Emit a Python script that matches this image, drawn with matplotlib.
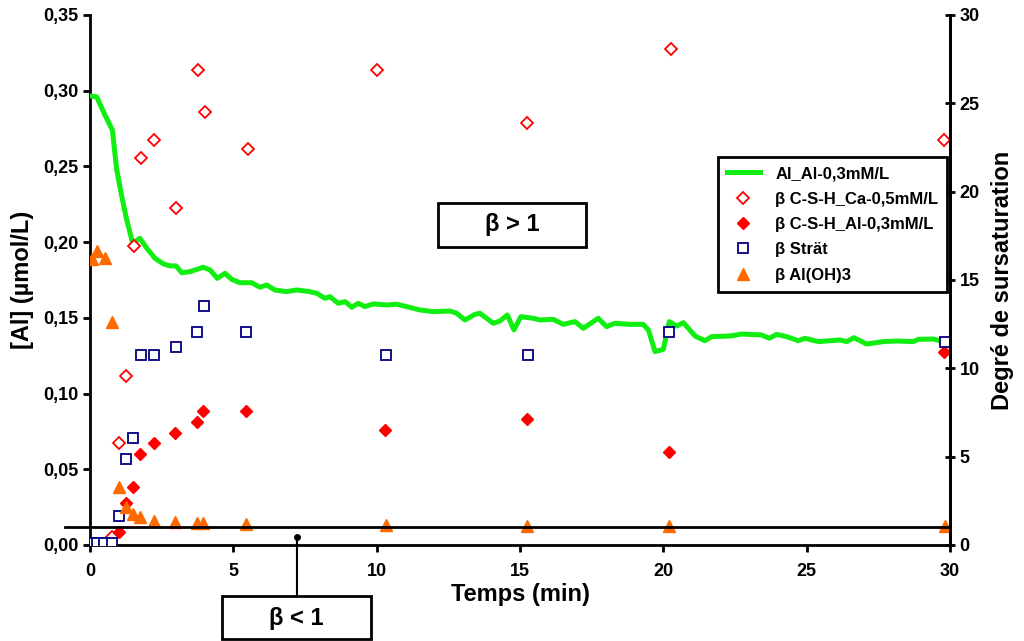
# [Al] en solution et degré de sursaturation en fonction du temps

import matplotlib
matplotlib.use('Agg')
import matplotlib.pyplot as plt
from matplotlib.patches import Rectangle
from matplotlib.ticker import FuncFormatter, MultipleLocator

plt.rcParams['font.family'] = ['Liberation Sans', 'DejaVu Sans']
plt.rcParams['font.weight'] = 'bold'

# Concentration en Al (umol/L) vs temps (min)
t_al = [0.0, 0.23, 0.52, 0.78, 0.93, 1.11, 1.28, 1.49, 1.57, 1.74, 1.98, 2.27,
        2.56, 2.79, 3.0, 3.2, 3.49, 3.95, 4.19, 4.44, 4.71, 4.94, 5.23, 5.64,
        5.93, 6.16, 6.45, 6.86, 7.21, 7.67, 7.91, 8.2, 8.37, 8.66, 8.9, 9.13,
        9.36, 9.59, 9.88, 10.35, 10.7, 11.05, 11.51, 11.98, 12.56, 12.79,
        13.08, 13.43, 13.6, 14.07, 14.3, 14.56, 14.79, 15.03, 15.46, 15.7,
        16.16, 16.51, 16.92, 17.21, 17.73, 18.02, 18.31, 18.84, 19.3, 19.48,
        19.71, 20.0, 20.21, 20.47, 20.7, 21.11, 21.45, 21.69, 22.33, 22.73,
        23.43, 23.7, 23.95, 24.3, 24.71, 24.94, 25.41, 26.16, 26.4, 26.65,
        27.09, 27.67, 28.14, 28.72, 28.89, 29.42, 29.77]
al = [0.2965, 0.296, 0.284, 0.274, 0.248, 0.230, 0.2147, 0.1992, 0.2003,
      0.2025, 0.196, 0.1893, 0.1856, 0.1843, 0.1843, 0.1798, 0.1805, 0.1834,
      0.1816, 0.1761, 0.1794, 0.1755, 0.1732, 0.1732, 0.1702, 0.1717, 0.1684,
      0.1673, 0.1684, 0.1673, 0.1662, 0.1629, 0.164, 0.1596, 0.1607, 0.157,
      0.1596, 0.1574, 0.1592, 0.1585, 0.159, 0.1574, 0.1552, 0.1541, 0.1545,
      0.153, 0.1486, 0.1523, 0.153, 0.1464, 0.1479, 0.1519, 0.142, 0.1508,
      0.1497, 0.1486, 0.149, 0.1457, 0.1475, 0.1431, 0.1497, 0.1442, 0.1464,
      0.1457, 0.1457, 0.142, 0.1277, 0.1292, 0.1475, 0.1446, 0.1468, 0.138,
      0.1349, 0.1376, 0.138, 0.1393, 0.1387, 0.1365, 0.1391, 0.1376, 0.1349,
      0.1365, 0.1343, 0.1354, 0.1343, 0.1369, 0.1327, 0.1343, 0.1347, 0.1343,
      0.1358, 0.136, 0.1343]

# Degrés de sursaturation
t_csh_ca = [0.78, 1.02, 1.26, 1.53, 1.78, 2.23, 3.0, 3.77, 4.01, 5.51, 10.01,
            15.24, 20.27, 29.79]
b_csh_ca = [0.44, 5.76, 9.57, 16.9, 21.9, 22.9, 19.1, 26.9, 24.5, 22.4, 26.9,
            23.9, 28.1, 22.9]

t_csh_al = [1.01, 1.26, 1.51, 1.74, 2.23, 2.98, 3.72, 3.95, 5.43, 10.29, 15.24,
            20.2, 29.79]
b_csh_al = [0.75, 2.36, 3.3, 5.15, 5.76, 6.32, 6.95, 7.58, 7.58, 6.5, 7.13,
            5.26, 10.9]

t_strat = [0.0, 0.25, 0.5, 0.76, 1.01, 1.26, 1.51, 1.78, 2.23, 3.0, 3.73, 3.98,
           5.44, 10.33, 15.28, 20.2, 29.83]
b_strat = [0.1, 0.1, 0.1, 0.1, 1.66, 4.89, 6.04, 10.75, 10.75, 11.2, 12.06,
           13.5, 12.06, 10.75, 10.75, 12.06, 11.5]

t_aloh3 = [0.06, 0.25, 0.52, 0.77, 1.01, 1.26, 1.49, 1.74, 2.23, 2.98, 3.72,
           3.95, 5.43, 10.33, 15.24, 20.2, 29.83]
b_aloh3 = [16.19, 16.64, 16.25, 12.6, 3.3, 2.17, 1.75, 1.57, 1.38, 1.32, 1.26,
           1.26, 1.17, 1.13, 1.08, 1.08, 1.08]

fig = plt.figure(figsize=(10.24, 6.41), dpi=100)
ax = fig.add_axes([0.0879, 0.1498, 0.8398, 0.8268])
ax2 = ax.twinx()

ax.plot(t_al, al, color='#11ee11', lw=3.6, label='Al_Al-0,3mM/L', zorder=3)

ax2.plot(t_csh_ca, b_csh_ca, 'D', ms=6, mfc='white', mec='red', mew=1.3,
         ls='none', label='β C-S-H_Ca-0,5mM/L')
ax2.plot(t_csh_al, b_csh_al, 'D', ms=6.5, color='red', ls='none',
         label='β C-S-H_Al-0,3mM/L')
ax2.plot(t_strat, b_strat, 's', ms=7.5, mfc='white', mec='#000080', mew=1.3,
         ls='none', label='β Strät')
ax2.plot(t_aloh3, b_aloh3, '^', ms=8.5, color='#ff6a00', ls='none',
         label='β Al(OH)3')

# beta = 1
ax2.plot([-0.029, 1.0], [1, 1], color='k', lw=2,
         transform=ax2.get_yaxis_transform(), clip_on=False)

ax.set_xlim(0, 30)
ax.set_ylim(0, 0.35)
ax2.set_ylim(0, 30)
ax.xaxis.set_major_locator(MultipleLocator(5))
ax.yaxis.set_major_locator(MultipleLocator(0.05))
ax2.yaxis.set_major_locator(MultipleLocator(5))
ax.yaxis.set_major_formatter(FuncFormatter(lambda v, p: f'{v:.2f}'.replace('.', ',')))

for a in (ax, ax2):
    a.spines['top'].set_visible(False)
    for s in a.spines.values():
        s.set_linewidth(2)
ax2.spines['left'].set_visible(False)
ax2.spines['bottom'].set_visible(False)
ax.tick_params(axis='both', width=2, length=5, labelsize=13, direction='out')
ax.tick_params(axis='x', pad=8)
ax2.tick_params(axis='y', width=2, length=7, labelsize=13, direction='inout')

ax.set_xlabel('Temps (min)', fontsize=17, fontweight='bold', labelpad=2)
ax.set_ylabel('[Al] (µmol/L)', fontsize=17, fontweight='bold', labelpad=6)
ax2.set_ylabel('Degré de sursaturation', fontsize=17, fontweight='bold', labelpad=8)

h1, l1 = ax.get_legend_handles_labels()
h2, l2 = ax2.get_legend_handles_labels()
leg = ax2.legend(h1 + h2, l1 + l2, loc='upper right', bbox_to_anchor=(0.997, 0.732),
                 borderaxespad=0, fancybox=False, edgecolor='black', framealpha=1,
                 prop={'size': 12, 'weight': 'bold'}, handlelength=2.0,
                 handletextpad=0.9, labelspacing=0.62, borderpad=0.55)
leg.get_frame().set_linewidth(2)

# boites beta > 1 et beta < 1
ax2.add_patch(Rectangle((0.4047, 0.5623), 0.172, 0.083, transform=ax2.transAxes,
                        fill=False, lw=2, ec='k', clip_on=False))
ax2.text(0.4907, 0.6038, 'β > 1', transform=ax2.transAxes, ha='center', va='center',
         fontsize=17, fontweight='bold')
ax2.add_patch(Rectangle((0.1535, -0.1774), 0.1732, 0.0812, transform=ax2.transAxes,
                        fill=False, lw=2, ec='k', clip_on=False))
ax2.text(0.2401, -0.138, 'β < 1', transform=ax2.transAxes, ha='center', va='center',
         fontsize=17, fontweight='bold')
ax2.annotate('', xy=(7.22, 0.45), xytext=(7.22, -0.0962),
             textcoords=('data', 'axes fraction'),
             arrowprops=dict(arrowstyle='-', color='k', lw=1.5, shrinkA=0, shrinkB=0),
             annotation_clip=False)
ax2.plot([7.22], [0.45], 'o', color='k', ms=4, clip_on=False)

fig.savefig('out.png', dpi=100)
